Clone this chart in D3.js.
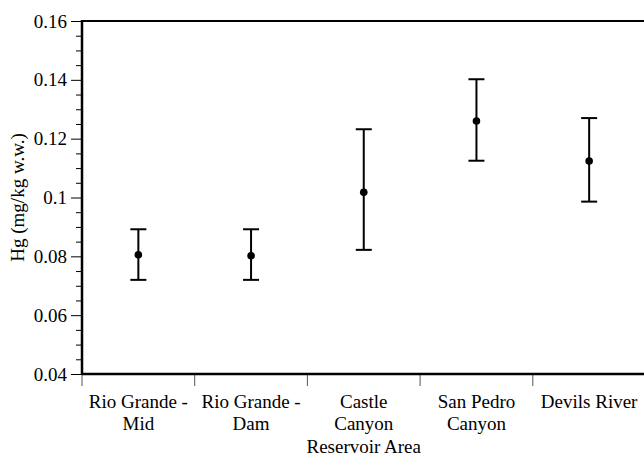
<!DOCTYPE html>
<html>
<head>
<meta charset="utf-8">
<script src="https://cdn.jsdelivr.net/npm/d3@7"></script>
<style>
  body { margin: 0; background: #fff; }
  text { font-family: "Liberation Serif", "Times New Roman", Times, serif; fill: #000; }
</style>
</head>
<body>
<div id="chart"></div>
<script>
// Hg par zone de réservoir : moyenne et barres d'erreur
const categories = ["Rio Grande - Mid", "Rio Grande - Dam", "Castle Canyon", "San Pedro Canyon", "Devils River"];
const categoryLines = [["Rio Grande -", "Mid"], ["Rio Grande -", "Dam"], ["Castle", "Canyon"], ["San Pedro", "Canyon"], ["Devils River"]];
const means = [0.0805, 0.0802, 0.1018, 0.1260, 0.1124];
const upper = [0.0892, 0.0892, 0.1232, 0.1402, 0.1270];
const lower = [0.0720, 0.0720, 0.0822, 0.1125, 0.0986];
const majorTicks = [0.04, 0.06, 0.08, 0.1, 0.12, 0.14, 0.16];
const minorTicks = d3.range(0.045, 0.16, 0.005).filter(v => Math.abs(Math.round(v / 0.02) * 0.02 - v) > 1e-6);

function createChart() {
    const W = 644, H = 458;
    const margin = { top: 21, right: 0, bottom: 84, left: 82 };
    const plotRight = 645.5;

    const svg = d3.select("#chart")
        .append("svg")
        .attr("width", W)
        .attr("height", H);

    // Échelles
    const x = d3.scaleBand()
        .domain(categories)
        .range([margin.left, plotRight])
        .padding(0);

    const y = d3.scaleLinear()
        .domain([0.04, 0.16])
        .range([H - margin.bottom, margin.top]);

    // Graduations mineures
    svg.append("g")
        .attr("transform", `translate(${margin.left},0)`)
        .call(d3.axisLeft(y).tickValues(minorTicks).tickSize(6).tickFormat(""))
        .call(g => g.select(".domain").remove())
        .call(g => g.selectAll("line").attr("stroke", "#000").attr("stroke-width", 1));

    // Axe Y principal
    svg.append("g")
        .attr("transform", `translate(${margin.left},0)`)
        .attr("font-family", null)
        .call(d3.axisLeft(y).tickValues(majorTicks).tickSize(11).tickPadding(4)
            .tickFormat(d => d === 0.1 ? "0.1" : d3.format(".2f")(d)))
        .call(g => g.select(".domain").remove())
        .call(g => g.selectAll("line").attr("stroke", "#000").attr("stroke-width", 1))
        .call(g => g.selectAll("text")
            .style("font-size", "19px")
            .attr("fill", "#000"));

    // Graduations X aux limites des catégories
    svg.append("g")
        .selectAll("line")
        .data(categories)
        .enter()
        .append("line")
        .attr("x1", d => x(d))
        .attr("x2", d => x(d))
        .attr("y1", y(0.04))
        .attr("y2", y(0.04) + 12)
        .attr("stroke", "#555")
        .attr("stroke-width", 1);

    // Cadre
    svg.append("line")
        .attr("x1", margin.left).attr("x2", plotRight)
        .attr("y1", y(0.16)).attr("y2", y(0.16))
        .attr("stroke", "#000").attr("stroke-width", 2);
    svg.append("line")
        .attr("x1", margin.left).attr("x2", plotRight)
        .attr("y1", y(0.04)).attr("y2", y(0.04))
        .attr("stroke", "#000").attr("stroke-width", 2.5);
    svg.append("line")
        .attr("x1", margin.left).attr("x2", margin.left)
        .attr("y1", y(0.16) - 1).attr("y2", y(0.04) + 1)
        .attr("stroke", "#000").attr("stroke-width", 2.5);

    // Libellés des catégories
    const labels = svg.append("g")
        .selectAll("text")
        .data(categories)
        .enter()
        .append("text")
        .attr("text-anchor", "middle")
        .style("font-size", "19px")
        .attr("transform", d => `translate(${x(d) + x.bandwidth() / 2},${y(0.04) + 34})`);

    labels.selectAll("tspan")
        .data((d, i) => categoryLines[i])
        .enter()
        .append("tspan")
        .attr("x", 0)
        .attr("y", (d, i) => i * 22)
        .text(d => d);

    // Titres des axes
    svg.append("text")
        .attr("x", (margin.left + plotRight) / 2)
        .attr("y", 453)
        .attr("text-anchor", "middle")
        .style("font-size", "19px")
        .text("Reservoir Area");

    svg.append("text")
        .attr("transform", `translate(24,${(y(0.04) + y(0.16)) / 2}) rotate(-90)`)
        .attr("text-anchor", "middle")
        .style("font-size", "19px")
        .text("Hg (mg/kg w.w.)");

    // Barres d'erreur
    const cx = d => x(d) + x.bandwidth() / 2;
    const bars = svg.append("g")
        .selectAll("g")
        .data(categories)
        .enter()
        .append("g");

    bars.append("line")
        .attr("x1", cx).attr("x2", cx)
        .attr("y1", (d, i) => y(upper[i]))
        .attr("y2", (d, i) => y(lower[i]))
        .attr("stroke", "#000").attr("stroke-width", 2);

    bars.append("line")
        .attr("x1", d => cx(d) - 8).attr("x2", d => cx(d) + 8)
        .attr("y1", (d, i) => y(upper[i]))
        .attr("y2", (d, i) => y(upper[i]))
        .attr("stroke", "#000").attr("stroke-width", 2);

    bars.append("line")
        .attr("x1", d => cx(d) - 8).attr("x2", d => cx(d) + 8)
        .attr("y1", (d, i) => y(lower[i]))
        .attr("y2", (d, i) => y(lower[i]))
        .attr("stroke", "#000").attr("stroke-width", 2);

    bars.append("circle")
        .attr("cx", cx)
        .attr("cy", (d, i) => y(means[i]))
        .attr("r", 3.8)
        .attr("fill", "#000");
}

createChart();
</script>
</body>
</html>
